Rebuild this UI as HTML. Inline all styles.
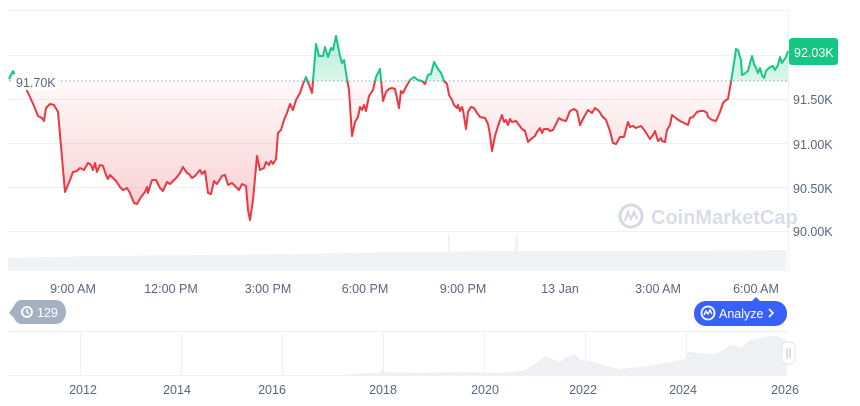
<!DOCTYPE html>
<html><head><meta charset="utf-8"><style>
html,body{margin:0;padding:0;background:#fff;}
body{width:860px;height:401px;overflow:hidden;font-family:"Liberation Sans",sans-serif;}
</style></head><body>
<svg width="860" height="401" viewBox="0 0 860 401" xmlns="http://www.w3.org/2000/svg" font-family="Liberation Sans, sans-serif">
<defs>
<linearGradient id="rg" x1="0" y1="81" x2="0" y2="220" gradientUnits="userSpaceOnUse">
<stop offset="0" stop-color="#ea3943" stop-opacity="0.03"/><stop offset="1" stop-color="#ea3943" stop-opacity="0.25"/></linearGradient>
<linearGradient id="gg" x1="0" y1="30" x2="0" y2="81" gradientUnits="userSpaceOnUse">
<stop offset="0" stop-color="#16c784" stop-opacity="0.35"/><stop offset="1" stop-color="#16c784" stop-opacity="0.15"/></linearGradient>
<clipPath id="above"><rect x="0" y="0" width="860" height="81"/></clipPath>
<clipPath id="below"><rect x="0" y="81" width="860" height="300"/></clipPath>
<path id="lineP" d="M9,79 L13,71 L15,76 L22,80 L30,97 L34,106 L38,116 L42,118 L44,121 L46,108 L50,104 L54,105 L58,112 L65,192 L70,180 L73,172 L77,171 L80,168 L84,170 L88,163 L91,165 L93,170 L95,163 L97,172 L100,165 L103,166 L106,175 L108,179 L110,175 L114,179 L116,181 L120,187 L123,190 L127,188 L130,193 L134,203 L137,204 L141,197 L145,192 L147,187 L148,193 L152,180 L156,180 L160,188 L163,191 L167,182 L170,184 L174,180 L177,177 L180,173 L183,167 L187,173 L189,174 L192,178 L195,176 L200,170 L202,174 L205,171 L208,193 L211,194 L214,181 L217,184 L222,176 L225,175 L228,185 L232,183 L235,186 L239,190 L242,184 L246,186 L248,210 L250,220 L253,200 L257,156 L260,170 L264,168 L266,162 L269,165 L271,161 L273,164 L276,159 L278,133 L281,130 L284,120 L287,113 L290,104 L293,110 L296,100 L300,93 L303,84 L306,77 L308,82 L312,93 L316,44 L319,56 L323,56 L325,47 L328,57 L331,48 L333,50 L336,36 L340,56 L342,63 L344,60 L347,79 L349,90 L352,136 L355,122 L358,117 L360,107 L362,110 L364,105 L366,111 L369,96 L373,90 L376,77 L380,69 L383,101 L386,92 L389,89 L392,88 L395,89 L399,108 L401,91 L403,93 L406,87 L410,80 L414,77 L418,80 L422,81 L425,84 L428,75 L431,74 L434,62 L438,69 L441,73 L444,81 L447,84 L449,95 L452,100 L454,105 L457,108 L458,105 L460,111 L462,107 L463,110 L466,129 L468,112 L471,107 L474,108 L477,113 L480,117 L485,118 L488,124 L490,135 L492,151 L495,136 L498,126 L502,115 L504,122 L506,120 L508,125 L510,119 L512,122 L516,121 L519,125 L522,129 L525,131 L528,142 L531,139 L535,136 L537,132 L540,128 L542,133 L544,129 L548,129 L550,131 L553,130 L556,124 L559,118 L562,120 L566,121 L570,111 L574,109 L577,111 L580,125 L584,117 L588,110 L592,113 L595,108 L599,111 L602,116 L606,120 L610,131 L613,143 L616,144 L620,137 L624,137 L628,122 L630,127 L633,126 L636,128 L641,126 L645,131 L648,136 L650,139 L653,135 L655,131 L658,141 L661,138 L662,141 L665,142 L667,130 L670,125 L672,115 L677,119 L680,121 L684,123 L688,125 L690,118 L693,117 L697,112 L700,111 L704,111 L707,113 L708,117 L712,120 L716,121 L720,112 L723,103 L726,100 L728,99 L731,82 L734,63 L736,49 L738,50 L741,60 L742,75 L744,74 L748,71 L750,63 L752,56 L754,64 L756,68 L758,73 L760,68 L762,75 L764,78 L766,71 L770,67 L773,66 L775,70 L778,65 L780,57 L782,63 L786,57 L788,51"/>
<path id="fillp" d="M9,81 L9,79 L13,71 L15,76 L22,80 L30,97 L34,106 L38,116 L42,118 L44,121 L46,108 L50,104 L54,105 L58,112 L65,192 L70,180 L73,172 L77,171 L80,168 L84,170 L88,163 L91,165 L93,170 L95,163 L97,172 L100,165 L103,166 L106,175 L108,179 L110,175 L114,179 L116,181 L120,187 L123,190 L127,188 L130,193 L134,203 L137,204 L141,197 L145,192 L147,187 L148,193 L152,180 L156,180 L160,188 L163,191 L167,182 L170,184 L174,180 L177,177 L180,173 L183,167 L187,173 L189,174 L192,178 L195,176 L200,170 L202,174 L205,171 L208,193 L211,194 L214,181 L217,184 L222,176 L225,175 L228,185 L232,183 L235,186 L239,190 L242,184 L246,186 L248,210 L250,220 L253,200 L257,156 L260,170 L264,168 L266,162 L269,165 L271,161 L273,164 L276,159 L278,133 L281,130 L284,120 L287,113 L290,104 L293,110 L296,100 L300,93 L303,84 L306,77 L308,82 L312,93 L316,44 L319,56 L323,56 L325,47 L328,57 L331,48 L333,50 L336,36 L340,56 L342,63 L344,60 L347,79 L349,90 L352,136 L355,122 L358,117 L360,107 L362,110 L364,105 L366,111 L369,96 L373,90 L376,77 L380,69 L383,101 L386,92 L389,89 L392,88 L395,89 L399,108 L401,91 L403,93 L406,87 L410,80 L414,77 L418,80 L422,81 L425,84 L428,75 L431,74 L434,62 L438,69 L441,73 L444,81 L447,84 L449,95 L452,100 L454,105 L457,108 L458,105 L460,111 L462,107 L463,110 L466,129 L468,112 L471,107 L474,108 L477,113 L480,117 L485,118 L488,124 L490,135 L492,151 L495,136 L498,126 L502,115 L504,122 L506,120 L508,125 L510,119 L512,122 L516,121 L519,125 L522,129 L525,131 L528,142 L531,139 L535,136 L537,132 L540,128 L542,133 L544,129 L548,129 L550,131 L553,130 L556,124 L559,118 L562,120 L566,121 L570,111 L574,109 L577,111 L580,125 L584,117 L588,110 L592,113 L595,108 L599,111 L602,116 L606,120 L610,131 L613,143 L616,144 L620,137 L624,137 L628,122 L630,127 L633,126 L636,128 L641,126 L645,131 L648,136 L650,139 L653,135 L655,131 L658,141 L661,138 L662,141 L665,142 L667,130 L670,125 L672,115 L677,119 L680,121 L684,123 L688,125 L690,118 L693,117 L697,112 L700,111 L704,111 L707,113 L708,117 L712,120 L716,121 L720,112 L723,103 L726,100 L728,99 L731,82 L734,63 L736,49 L738,50 L741,60 L742,75 L744,74 L748,71 L750,63 L752,56 L754,64 L756,68 L758,73 L760,68 L762,75 L764,78 L766,71 L770,67 L773,66 L775,70 L778,65 L780,57 L782,63 L786,57 L788,51 L788,81 Z"/>
</defs>
<!-- grid -->
<g stroke="#eff2f5" stroke-width="1">
<line x1="8" y1="10.5" x2="788" y2="10.5"/>
<line x1="8" y1="55.5" x2="788" y2="55.5"/>
<line x1="8" y1="99.5" x2="788" y2="99.5"/>
<line x1="8" y1="143.5" x2="788" y2="143.5"/>
<line x1="8" y1="187.5" x2="788" y2="187.5"/>
<line x1="8" y1="231.5" x2="788" y2="231.5"/>
<line x1="788.5" y1="10" x2="788.5" y2="271"/>
</g>
<!-- volume -->
<path d="M8,258 L100,256 L200,255 L300,254 L400,252 L500,251 L600,251 L700,251 L786,250 L786,271 L8,271 Z" fill="#f0f2f5"/>
<rect x="448" y="235" width="2" height="36" fill="#f0f2f5"/>
<rect x="515" y="235" width="3" height="36" fill="#f0f2f5"/>
<!-- watermark -->
<circle cx="631" cy="216" r="11" fill="none" stroke="#d6dae3" stroke-width="3"/>
<path d="M625,221 L628,212 L631,219 L634,212 L637,219" stroke="#d6dae3" stroke-width="2.2" fill="none"/>
<text x="651" y="224" font-size="20" font-weight="bold" fill="#d9dde5">CoinMarketCap</text>
<use href="#fillp" fill="url(#gg)" clip-path="url(#above)"/>
<use href="#fillp" fill="url(#rg)" clip-path="url(#below)"/>
<path d="M9,81 L788,81" stroke="#9aa0aa" stroke-width="1" stroke-dasharray="1.5,2.5"/>
<g fill="none" stroke-width="2" stroke-linejoin="round">
<use href="#lineP" stroke="#16c784" clip-path="url(#above)"/>
<use href="#lineP" stroke="#ea3943" clip-path="url(#below)"/>
</g>
<!-- base label -->
<rect x="12" y="74" width="46" height="16" rx="4" fill="#fff"/>
<text x="16" y="87" font-size="12.5" fill="#58667e">91.70K</text>
<!-- y labels -->
<g font-size="12.5" fill="#58667e">
<text x="793" y="104">91.50K</text>
<text x="793" y="149">91.00K</text>
<text x="793" y="193">90.50K</text>
<text x="793" y="236">90.00K</text>
</g>
<rect x="789" y="38" width="49" height="27" rx="3" fill="#16c784"/>
<text x="794" y="57" font-size="12.5" fill="#fff">92.03K</text>
<!-- x labels -->
<g font-size="12.5" fill="#58667e" text-anchor="middle">
<text x="73" y="293">9:00 AM</text>
<text x="171" y="293">12:00 PM</text>
<text x="268" y="293">3:00 PM</text>
<text x="365" y="293">6:00 PM</text>
<text x="463" y="293">9:00 PM</text>
<text x="560" y="293">13 Jan</text>
<text x="658" y="293">3:00 AM</text>
<text x="756" y="293">6:00 AM</text>
</g>
<!-- 129 badge -->
<path d="M20,300 H56 A10,12 0 0 1 66,312 A10,12 0 0 1 56,324 H20 A10,12 0 0 1 14,318 L9,313 L14,306 A10,12 0 0 1 20,300 Z" fill="#a6b0c3"/>
<circle cx="27" cy="312" r="5" fill="none" stroke="#fff" stroke-width="1.8"/>
<path d="M27,309 V312 L29,314" stroke="#fff" stroke-width="1.5" fill="none"/>
<text x="37" y="317" font-size="12.5" fill="#fff">129</text>
<!-- analyze -->
<path d="M752,301 L756,297 L760,301 Z" fill="#3861fb"/>
<rect x="694" y="301" width="93" height="25" rx="12" fill="#3861fb"/>
<circle cx="708" cy="313" r="6.5" fill="none" stroke="#fff" stroke-width="1.8"/>
<path d="M704,315 L706,311 L708,314 L710,310 L712,314" stroke="#fff" stroke-width="1.4" fill="none"/>
<text x="719" y="318" font-size="12.5" fill="#fff">Analyze</text>
<path d="M769,309 L773,313 L769,317" stroke="#fff" stroke-width="1.6" fill="none"/>
<!-- overview -->
<line x1="8" y1="331.5" x2="788" y2="331.5" stroke="#eff2f5"/>
<line x1="8" y1="375.5" x2="788" y2="375.5" stroke="#eff2f5"/>
<g stroke="#eff2f5">
<line x1="80.5" y1="331" x2="80.5" y2="375"/><line x1="181.5" y1="331" x2="181.5" y2="375"/>
<line x1="282.5" y1="331" x2="282.5" y2="375"/><line x1="383.5" y1="331" x2="383.5" y2="375"/>
<line x1="484.5" y1="331" x2="484.5" y2="375"/><line x1="585.5" y1="331" x2="585.5" y2="375"/>
<line x1="686.5" y1="331" x2="686.5" y2="375"/>
</g>
<path d="M340,375 L370,373 L380,373 L382,368 L385,372 L420,373 L460,372 L500,373 L525,370 L535,364 L545,356 L553,359 L560,362 L567,357 L575,354 L580,360 L590,361 L600,364 L610,367 L620,369 L640,367 L660,364 L680,360 L685,359 L688,352 L700,353 L712,354 L720,352 L728,346 L735,345 L740,348 L750,340 L760,338 L770,336 L778,336 L787,340 L787,375 Z" fill="#eef0f4"/>
<rect x="782" y="342" width="13" height="22" rx="5" fill="#fff" stroke="#e3e6ec"/>
<line x1="787" y1="348" x2="787" y2="358" stroke="#b8bec9"/><line x1="790" y1="348" x2="790" y2="358" stroke="#b8bec9"/>
<g font-size="12.5" fill="#58667e" text-anchor="middle">
<text x="83" y="394">2012</text><text x="177" y="394">2014</text><text x="272" y="394">2016</text>
<text x="383" y="394">2018</text><text x="485" y="394">2020</text><text x="583" y="394">2022</text>
<text x="683" y="394">2024</text><text x="785" y="394">2026</text>
</g>
</svg>
</body></html>
